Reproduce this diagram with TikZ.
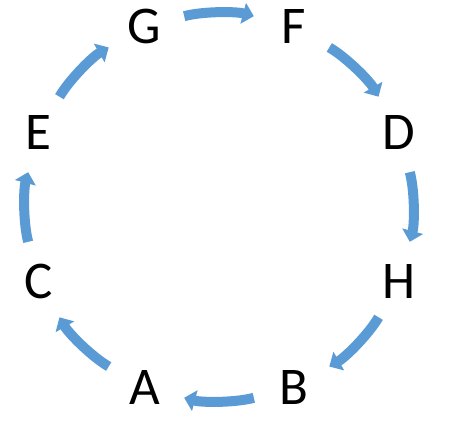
\documentclass[tikz,border=0pt]{standalone}
\usepackage{fontspec}
\setmainfont{Carlito}
\usepackage{xcolor}
\usepackage{tikz}
\usetikzlibrary{arrows.meta, positioning}
\definecolor{cycleblue}{RGB}{91, 155, 213}

\begin{document}
\begin{tikzpicture}[
    letter/.style={circle, minimum size=82pt, inner sep=0pt,
                   font=\fontsize{53}{64}\selectfont},
    flow/.style={cycleblue, line width=10pt,
                 -{Triangle[length=11pt, width=21pt]},
                 bend left=15, looseness=0.7}]
    \useasboundingbox (-219pt,-216pt) rectangle (234pt,207pt);
    \foreach \p/\ang in {G/112.5, F/67.5, D/22.5, H/-22.5,
                         B/-67.5, A/-112.5, C/-157.5, E/157.5}
        \node[letter] (\p) at (\ang:195pt) {\p};
    \foreach \a/\b in {G/F, F/D, D/H, H/B, B/A, A/C, C/E, E/G}
        \draw[flow] (\a) to (\b);
\end{tikzpicture}
\end{document}
